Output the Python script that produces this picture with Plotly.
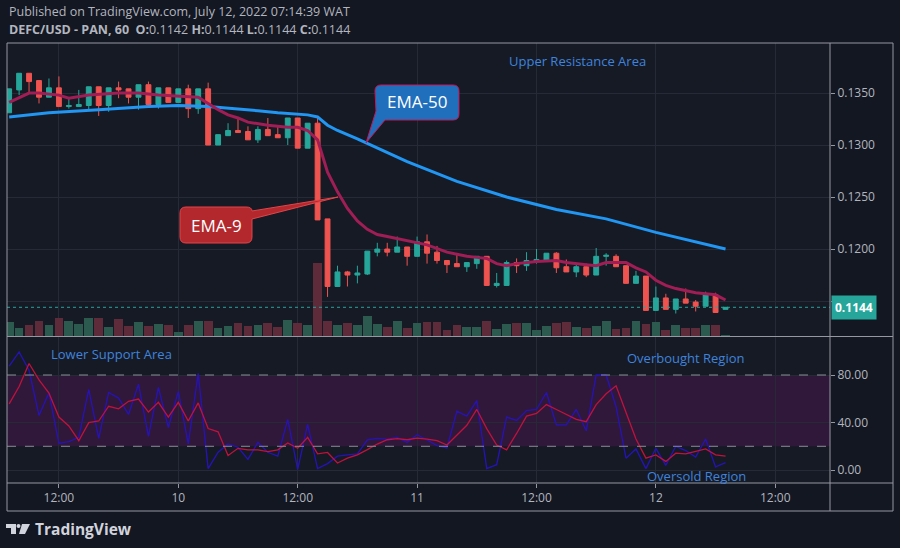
import pandas as pd
import plotly.graph_objects as go

# hourly candles, DEFC/USD 60
times = pd.date_range("2022-07-09 07:00", periods=73, freq="h")

opens = [0.1331, 0.1353, 0.1369, 0.1362, 0.1346, 0.1355, 0.1337, 0.1337, 0.1338, 0.1356,
         0.1338, 0.1355, 0.1354, 0.1346, 0.1358, 0.1339, 0.1355, 0.1341, 0.1354, 0.1335,
         0.1354, 0.1300, 0.1309, 0.1314, 0.1313, 0.1305, 0.1315, 0.1310, 0.1307, 0.1326,
         0.1297, 0.1321, 0.1229, 0.1164, 0.1178, 0.1175, 0.1176, 0.1197, 0.1200, 0.1197,
         0.1202, 0.1193, 0.1207, 0.1197, 0.1189, 0.1186, 0.1183, 0.1186, 0.1193, 0.1165,
         0.1165, 0.1187, 0.1184, 0.1188, 0.1189, 0.1196, 0.1183, 0.1178, 0.1183, 0.1175,
         0.1193, 0.1193, 0.1184, 0.1167, 0.1174, 0.1141, 0.1153, 0.1142, 0.1152, 0.1149,
         0.1145, 0.1156, 0.1142]
highs = [0.1354, 0.1369, 0.1369, 0.1362, 0.1364, 0.1366, 0.1345, 0.1353, 0.1356, 0.1356,
         0.1355, 0.1361, 0.1354, 0.1358, 0.1361, 0.1355, 0.1355, 0.1354, 0.1358, 0.1354,
         0.1360, 0.1310, 0.1321, 0.1325, 0.1318, 0.1318, 0.1326, 0.1318, 0.1326, 0.1326,
         0.1321, 0.1326, 0.1229, 0.1184, 0.1179, 0.1184, 0.1198, 0.1206, 0.1206, 0.1212,
         0.1202, 0.1212, 0.1214, 0.1203, 0.1189, 0.1196, 0.1187, 0.1193, 0.1193, 0.1177,
         0.1189, 0.1191, 0.1197, 0.1200, 0.1196, 0.1197, 0.1190, 0.1186, 0.1186, 0.1201,
         0.1196, 0.1195, 0.1184, 0.1179, 0.1174, 0.1164, 0.1157, 0.1152, 0.1162, 0.1151,
         0.1159, 0.1158, 0.1144]
lows = [0.1331, 0.1348, 0.1351, 0.1340, 0.1346, 0.1337, 0.1335, 0.1337, 0.1334, 0.1328,
        0.1332, 0.1345, 0.1340, 0.1334, 0.1339, 0.1335, 0.1341, 0.1341, 0.1326, 0.1330,
        0.1300, 0.1300, 0.1309, 0.1312, 0.1305, 0.1302, 0.1309, 0.1307, 0.1300, 0.1297,
        0.1297, 0.1228, 0.1154, 0.1164, 0.1164, 0.1167, 0.1175, 0.1193, 0.1193, 0.1197,
        0.1184, 0.1193, 0.1186, 0.1186, 0.1177, 0.1183, 0.1178, 0.1181, 0.1165, 0.1163,
        0.1165, 0.1177, 0.1179, 0.1186, 0.1189, 0.1177, 0.1178, 0.1173, 0.1173, 0.1175,
        0.1184, 0.1183, 0.1167, 0.1167, 0.1141, 0.1141, 0.1142, 0.1138, 0.1148, 0.1140,
        0.1145, 0.1139, 0.1142]
closes = [0.1354, 0.1369, 0.1361, 0.1346, 0.1355, 0.1337, 0.1338, 0.1339, 0.1356, 0.1338,
          0.1355, 0.1353, 0.1346, 0.1358, 0.1339, 0.1355, 0.1341, 0.1354, 0.1335, 0.1354,
          0.1300, 0.1310, 0.1314, 0.1312, 0.1305, 0.1315, 0.1309, 0.1307, 0.1326, 0.1297,
          0.1321, 0.1228, 0.1164, 0.1178, 0.1175, 0.1177, 0.1198, 0.1200, 0.1197, 0.1202,
          0.1193, 0.1207, 0.1196, 0.1189, 0.1185, 0.1183, 0.1187, 0.1193, 0.1165, 0.1167,
          0.1187, 0.1184, 0.1189, 0.1190, 0.1196, 0.1182, 0.1178, 0.1183, 0.1175, 0.1193,
          0.1194, 0.1183, 0.1167, 0.1174, 0.1141, 0.1153, 0.1142, 0.1152, 0.1148, 0.1145,
          0.1156, 0.1139, 0.1144]
volumes = [14, 8, 11, 15, 11, 18, 15, 12, 18, 18, 9, 17, 10, 14, 10, 12, 11, 4, 11, 15,
           15, 8, 10, 13, 10, 11, 13, 9, 16, 13, 11, 73, 15, 11, 13, 11, 20, 12, 9, 15,
           8, 13, 14, 14, 6, 11, 9, 9, 15, 7, 12, 13, 13, 6, 10, 13, 14, 9, 8, 10,
           15, 7, 8, 15, 12, 14, 6, 11, 8, 8, 11, 11, 1]

# moving averages (candle index, price)
ema9_idx = [0, 2, 3, 5, 6, 8, 11, 13, 15, 18, 19, 20, 21, 22, 23, 24, 26, 28, 29, 30,
            31, 32, 33, 34, 35, 36, 37, 38, 40, 42, 44, 46, 47, 48, 49, 50, 51, 53, 55, 56,
            58, 59, 60, 62, 63, 64, 65, 66, 67, 68, 69, 70, 71, 72]
ema9_val = [0.1341, 0.1350, 0.1350, 0.1348, 0.1345, 0.1348, 0.1350, 0.1350, 0.1348, 0.1347,
            0.1346, 0.1340, 0.1334, 0.1329, 0.1326, 0.1322, 0.1319, 0.1317, 0.1317, 0.1314,
            0.1305, 0.1274, 0.1255, 0.1239, 0.1227, 0.1219, 0.1214, 0.1212, 0.1208, 0.1204,
            0.1197, 0.1193, 0.1192, 0.1191, 0.1186, 0.1184, 0.1186, 0.1188, 0.1189, 0.1187,
            0.1185, 0.1184, 0.1187, 0.1187, 0.1182, 0.1178, 0.1170, 0.1165, 0.1162, 0.1160,
            0.1158, 0.1157, 0.1156, 0.1151]
ema50_idx = [0, 4, 9, 14, 17, 20, 25, 27, 30, 31, 32, 33, 35, 40, 45, 50, 55, 60, 65, 70, 72]
ema50_val = [0.1327, 0.1331, 0.1334, 0.1337, 0.1338, 0.1337, 0.1333, 0.1331, 0.1329, 0.1327,
             0.1319, 0.1314, 0.1306, 0.1284, 0.1265, 0.1250, 0.1238, 0.1229, 0.1216, 0.1205,
             0.1200]

# oscillator pane
rsi_fast = [87.5, 99.4, 84, 46, 65, 22.5, 24, 27.5, 68, 26.6, 65.3, 60.6, 46.8, 72.3, 28.3,
            69.5, 35.8, 66.2, 22, 81.4, 1.2, 15, 22, 19.2, 9, 23.3, 15, 11.7, 42.7, 0.6,
            38.5, 1.2, 5.4, 11.7, 12.8, 13.6, 25.5, 26.6, 26.1, 27.5, 23.3, 29.7, 25.3, 20.6,
            18.6, 49.6, 45.4, 58.4, 1.2, 4.5, 44.6, 41.8, 50.1, 51, 65.3, 38, 38, 51, 33,
            80, 80, 53.4, 10, 17.8, 1.2, 18.3, 4, 20, 16.4, 10.9, 26.1, 2.6, 6.2]
rsi_slow = [55.7, 70.3, 89.7, 75.9, 64.8, 44.6, 37.1, 24.7, 39.9, 41.3, 53.7, 51.5, 57.9,
            59.8, 48.8, 57, 44.6, 57, 41.3, 56.5, 34.9, 32.2, 12.3, 18.3, 17, 17, 15.6, 17,
            22.8, 18.3, 27.5, 13.6, 14.8, 5.9, 10, 12.8, 17.2, 21.9, 25.5, 26.4, 25.5, 26.9,
            26.1, 24.7, 21.1, 29.4, 37.7, 51, 34.9, 21.1, 17, 30.8, 45.4, 47.7, 55.1, 51,
            46.8, 42.7, 40.7, 55.1, 64.2, 70.9, 48.5, 26.1, 10, 12.8, 7.3, 14.2, 13.6, 15.9,
            17.8, 12.8, 11.7]
rsi_levels = [20, 80]

price_ticks = [0.1150, 0.1200, 0.1250, 0.1300, 0.1350]
rsi_ticks = [0, 40, 80]
time_ticks = ["2022-07-09 12:00", "2022-07-10 00:00", "2022-07-10 12:00", "2022-07-11 00:00",
              "2022-07-11 12:00", "2022-07-12 00:00", "2022-07-12 12:00"]
time_labels = ["12:00", "10", "12:00", "11", "12:00", "12", "12:00"]

BG = "#131722"
PANE = "#161a25"
GRID = "#262a36"
TXT = "#b2b5be"
FRAME = "#9598a1"
UP, DOWN = "#26a69a", "#ef5350"
LABEL_BLUE = "#3f84dc"
FONT = "Open Sans"


# pixel -> paper helpers (plot area spans x 7..830, y 43..483)
def fx(px):
    return (px - 7) / 823


def fy(py):
    return (483 - py) / 440


def path(cmds):
    out = []
    for c in cmds:
        pts = c[1:]
        xy = ["%.5f,%.5f" % (fx(pts[k]), fy(pts[k + 1])) for k in range(0, len(pts), 2)]
        out.append(c[0] + " ".join(xy))
    return " ".join(out) + " Z"


fig = go.Figure()

fig.add_trace(go.Candlestick(
    x=times, open=opens, high=highs, low=lows, close=closes,
    increasing=dict(line=dict(color=UP, width=1), fillcolor=UP),
    decreasing=dict(line=dict(color=DOWN, width=1), fillcolor=DOWN),
    xaxis="x", yaxis="y", showlegend=False, hoverinfo="skip"))

fig.add_trace(go.Scatter(x=[times[i] for i in ema50_idx], y=ema50_val, mode="lines",
                         line=dict(color="#2196f3", width=3), xaxis="x", yaxis="y",
                         showlegend=False, hoverinfo="skip"))
fig.add_trace(go.Scatter(x=[times[i] for i in ema9_idx], y=ema9_val, mode="lines",
                         line=dict(color="#a01d55", width=3), xaxis="x", yaxis="y",
                         showlegend=False, hoverinfo="skip"))

vol_colors = ["#2d5a4f" if c >= o else "#5d2b3a" for o, c in zip(opens, closes)]
fig.add_trace(go.Bar(x=times, y=volumes, marker=dict(color=vol_colors, line=dict(width=0)),
                     width=0.88 * 3600 * 1000, xaxis="x", yaxis="y2",
                     showlegend=False, hoverinfo="skip"))

fig.add_trace(go.Scatter(x=times, y=rsi_fast, mode="lines", line=dict(color="#2613b8", width=1.3),
                         xaxis="x2", yaxis="y3", showlegend=False, hoverinfo="skip"))
fig.add_trace(go.Scatter(x=times, y=rsi_slow, mode="lines", line=dict(color="#c0123c", width=1.3),
                         xaxis="x2", yaxis="y3", showlegend=False, hoverinfo="skip"))

x_range = ["2022-07-09 06:47", "2022-07-12 17:30"]

fig.update_layout(
    width=900, height=548, autosize=False,
    margin=dict(l=7, r=70, t=43, b=65),
    paper_bgcolor=BG, plot_bgcolor=PANE,
    font=dict(family=FONT, color=TXT, size=12),
    hovermode=False, bargap=0,
    xaxis=dict(domain=[0, 1], anchor="y", range=x_range, rangeslider=dict(visible=False),
               tickvals=time_ticks, showticklabels=False, showgrid=True, gridcolor=GRID,
               zeroline=False, showline=False),
    xaxis2=dict(domain=[0, 1], anchor="y3", range=x_range, matches="x",
                tickvals=time_ticks, ticktext=time_labels, showgrid=True, gridcolor=GRID,
                ticks="outside", ticklen=4, tickcolor=FRAME,
                tickfont=dict(size=12, color=TXT), zeroline=False, showline=False),
    yaxis=dict(domain=[fy(336), 1], anchor="x", side="right", range=[0.11164, 0.13981],
               tickvals=price_ticks, tickformat=".4f", showgrid=True, gridcolor=GRID,
               ticks="outside", ticklen=4, tickcolor=FRAME, tickfont=dict(size=12, color=TXT),
               zeroline=False, showline=False),
    yaxis2=dict(overlaying="y", range=[0, 293], visible=False),
    yaxis3=dict(domain=[0, fy(337)], anchor="x2", side="right", range=[-10.9, 112],
                tickvals=rsi_ticks, ticktext=["%.2f" % v for v in rsi_ticks],
                showgrid=True, gridcolor=GRID, ticks="outside", ticklen=4, tickcolor=FRAME,
                tickfont=dict(size=12, color=TXT), zeroline=False, showline=False),
)

shapes = []
# oscillator band and levels
shapes.append(dict(type="rect", xref="x2 domain", yref="y3", x0=0, x1=1,
                   y0=rsi_levels[0], y1=rsi_levels[1], fillcolor="rgba(120,20,120,0.28)",
                   line=dict(width=0), layer="below"))
for lv in rsi_levels:
    shapes.append(dict(type="line", xref="x2 domain", yref="y3", x0=0, x1=1, y0=lv, y1=lv,
                       line=dict(color="#8a8d96", width=1, dash="dash")))
# last price line
shapes.append(dict(type="line", xref="x domain", yref="y", x0=0, x1=1,
                   y0=closes[-1], y1=closes[-1], line=dict(color=UP, width=1, dash="dot")))

# frame
for (x0, y0, x1, y1) in [(7, 43, 893, 43), (7, 43, 7, 511), (893, 43, 893, 511),
                         (7, 511, 893, 511), (830, 43, 830, 511), (7, 336.5, 893, 336.5),
                         (7, 483, 893, 483)]:
    shapes.append(dict(type="line", xref="paper", yref="paper", x0=fx(x0), y0=fy(y0),
                       x1=fx(x1), y1=fy(y1), line=dict(color=FRAME, width=1)))

# EMA-50 callout
shapes.append(dict(type="path", xref="paper", yref="paper", fillcolor="#1f6fbd",
                   line=dict(color="#c2185b", width=1),
                   path=path([("M", 381, 85), ("L", 453, 85), ("Q", 459, 85, 459, 91),
                              ("L", 459, 114), ("Q", 459, 120, 453, 120), ("L", 385, 120),
                              ("L", 366, 143), ("L", 376, 111), ("L", 375, 91),
                              ("Q", 375, 85, 381, 85)])))
# EMA-9 callout
shapes.append(dict(type="path", xref="paper", yref="paper", fillcolor="#b3282d",
                   line=dict(color="#e0454a", width=1),
                   path=path([("M", 186, 207), ("L", 246, 207), ("Q", 252, 207, 252, 211),
                              ("L", 338, 197), ("L", 252, 219), ("L", 252, 237),
                              ("Q", 252, 243, 246, 243), ("L", 186, 243),
                              ("Q", 180, 243, 180, 237), ("L", 180, 213),
                              ("Q", 180, 207, 186, 207)])))

# TradingView logo
shapes.append(dict(type="path", xref="paper", yref="paper", fillcolor="#d1d4dc", line=dict(width=0),
                   path=path([("M", 6, 524), ("L", 16, 524), ("L", 16, 534), ("L", 11, 534),
                              ("L", 11, 528), ("L", 6, 528)])))
shapes.append(dict(type="circle", xref="paper", yref="paper", fillcolor="#d1d4dc", line=dict(width=0),
                   x0=fx(16.5), x1=fx(20.5), y0=fy(528), y1=fy(524)))
shapes.append(dict(type="path", xref="paper", yref="paper", fillcolor="#d1d4dc", line=dict(width=0),
                   path=path([("M", 22, 524), ("L", 30, 524), ("L", 25, 534), ("L", 19, 534)])))

fig.update_layout(shapes=shapes)


def note(text, x, y, color=LABEL_BLUE, size=13, anchor="center"):
    fig.add_annotation(text=text, xref="paper", yref="paper", x=fx(x), y=fy(y),
                       xanchor=anchor, yanchor="middle", showarrow=False,
                       font=dict(family=FONT, size=size, color=color))


note("Published on TradingView.com, July 12, 2022 07:14:39 WAT", 7, 12, TXT, 12.5, "left")
note("<b>DEFC/USD - PAN, 60</b>  <b>O:</b>0.1142 <b>H:</b>0.1144 <b>L:</b>0.1144 <b>C:</b>0.1144",
     7, 29, TXT, 12.5, "left")
note("Upper Resistance Area", 577, 61)
note("Lower Support Area", 111, 354)
note("Overbought Region", 685, 358)
note("Oversold Region", 696, 476)
note("EMA-50", 417, 102, "#ffffff", 17)
note("EMA-9", 216, 225, "#ffffff", 17)
note("<b>TradingView</b>", 33, 529, "#d1d4dc", 15.5, "left")

fig.add_annotation(text="<b>%.4f</b>" % closes[-1], xref="paper", yref="y", x=1, y=closes[-1],
                   xanchor="left", yanchor="middle", showarrow=False, bgcolor=UP,
                   borderpad=3, xshift=1, font=dict(family=FONT, size=12, color="#ffffff"))

# page body has a default 8px margin; drop it so the figure sits at the top-left corner
fig.write_html("out.html", config=dict(displayModeBar=False),
               post_script="document.body.style.margin='0px';"
                           "document.body.style.background='%s';" % BG)
